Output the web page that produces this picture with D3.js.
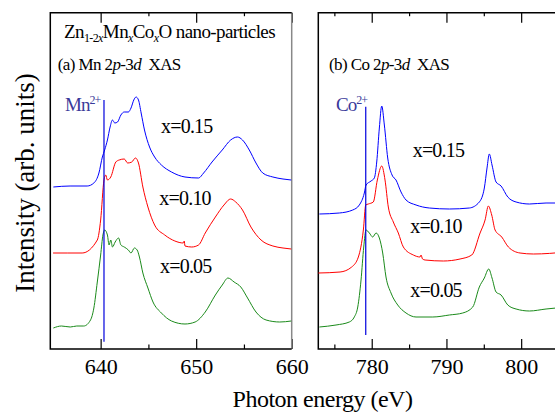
<!DOCTYPE html>
<html>
<head>
<meta charset="utf-8">
<script src="https://cdn.jsdelivr.net/npm/d3@7"></script>
</head>
<body style="margin:0; background:#fff">
<div id="chart"></div>
<script>
// Mn 2p-3d XAS spectra, [photon energy (eV), intensity (arb. units, offset)]
const mn015 = [
  [635.05,1.62],[636.8,1.63],[638.59,1.63],[639.29,1.66],[639.82,1.76],[640.18,1.92],[640.42,1.99],
  [640.71,2.09],[640.99,2.22],[641.24,2.29],[641.48,2.26],[641.77,2.27],[642.12,2.34],[642.47,2.37],
  [642.9,2.37],[643.18,2.41],[643.47,2.49],[643.71,2.52],[643.96,2.49],[644.24,2.36],[644.59,2.19],
  [645.12,2.02],[645.65,1.92],[646.36,1.84],[647.42,1.77],[648.83,1.72],[650.25,1.71],[650.78,1.76],
  [651.66,1.87],[652.73,1.99],[653.61,2.09],[654.32,2.12],[654.85,2.09],[655.56,1.99],[656.26,1.86],
  [656.97,1.76],[658.03,1.72],[659.09,1.7],[659.95,1.69]
];
const mn010 = [
  [635.02,0.96],[636.5,0.96],[638.06,0.96],[639.65,1.09],[640.0,1.29],[640.35,1.69],[640.53,1.74],
  [640.71,1.69],[641.06,1.72],[641.59,1.87],[641.94,1.89],[642.47,1.9],[642.83,1.86],[643.26,1.87],
  [643.64,1.91],[643.96,1.86],[644.42,1.62],[644.95,1.42],[645.65,1.24],[646.71,1.14],[647.77,1.08],
  [648.66,1.06],[648.75,1.08],[648.83,1.03],[649.54,1.02],[650.25,1.04],[650.95,1.16],[652.01,1.32],
  [652.91,1.44],[653.61,1.5],[654.14,1.47],[654.85,1.39],[655.73,1.22],[656.79,1.09],[658.03,1.03],
  [659.09,1.01],[659.95,1.0]
];
const mn005 = [
  [635.05,0.21],[635.9,0.23],[636.82,0.22],[637.5,0.23],[638.23,0.23],[638.94,0.29],[639.29,0.41],
  [639.65,0.67],[640.0,0.94],[640.24,1.14],[640.42,1.19],[640.71,1.14],[640.88,1.04],[641.06,1.09],
  [641.24,1.02],[641.52,1.07],[641.88,1.11],[642.12,1.04],[642.47,1.02],[642.9,0.99],[643.18,0.96],
  [643.53,1.01],[643.82,0.99],[644.06,0.92],[644.42,0.76],[644.95,0.61],[645.48,0.47],[646.36,0.36],
  [647.42,0.28],[648.83,0.25],[649.89,0.27],[650.95,0.37],[652.01,0.54],[652.73,0.64],[653.33,0.71],
  [653.97,0.67],[654.67,0.62],[655.38,0.51],[656.26,0.37],[657.32,0.29],[658.74,0.27],[659.95,0.28]
];

// Co 2p-3d XAS spectra
const co015 = [
  [772.99,1.35],[775.66,1.36],[777.46,1.39],[778.34,1.44],[779.01,1.56],[779.24,1.64],[779.91,1.68],
  [780.35,1.71],[780.67,1.87],[781.02,2.21],[781.34,2.43],[781.69,2.24],[782.14,1.91],[782.72,1.74],
  [783.25,1.69],[783.92,1.57],[784.59,1.49],[785.93,1.44],[787.71,1.41],[790.39,1.4],[793.07,1.41],
  [794.4,1.47],[795.07,1.61],[795.43,1.81],[795.74,1.95],[796.1,1.84],[796.64,1.67],[797.31,1.63],
  [798.21,1.52],[799.32,1.47],[801.1,1.45],[803.33,1.46],[806.0,1.46]
];
const co010 = [
  [772.85,0.76],[775.76,0.77],[777.32,0.82],[778.21,0.92],[778.88,1.19],[779.2,1.44],[779.54,1.45],
  [780.21,1.47],[780.75,1.69],[781.34,1.83],[781.78,1.69],[782.22,1.42],[782.89,1.27],[783.56,1.16],
  [784.23,1.02],[785.57,0.94],[786.47,0.92],[786.6,0.94],[786.8,0.9],[787.14,0.89],[789.58,0.88],
  [791.82,0.9],[793.39,0.94],[794.5,1.16],[795.17,1.29],[795.61,1.43],[796.06,1.34],[796.51,1.19],
  [797.4,1.12],[798.29,1.02],[799.85,0.96],[801.63,0.95],[806.0,0.97]
];
const co005 = [
  [772.99,0.22],[775.22,0.24],[777.0,0.27],[777.67,0.32],[778.13,0.42],[778.57,0.69],[778.93,1.02],
  [779.24,1.19],[779.68,1.16],[780.13,1.12],[780.58,1.16],[781.02,1.11],[781.47,0.96],[781.91,0.72],
  [782.58,0.56],[783.48,0.44],[784.59,0.36],[785.93,0.32],[788.17,0.32],[790.39,0.34],[792.18,0.36],
  [793.52,0.42],[794.4,0.62],[795.07,0.71],[795.66,0.8],[796.1,0.71],[796.64,0.57],[797.31,0.54],
  [798.21,0.44],[799.32,0.4],[801.1,0.38],[803.33,0.4],[806.0,0.42]
];

const seriesColors = ["#0000ff", "#ff0000", "#1a8a1a"];
const seriesLabels = ["x=0.15", "x=0.10", "x=0.05"];

const mnTicks = [640, 650, 660];
const mnMinor = [645, 655];
const coTicks = [780, 790, 800];
const coMinor = [775, 785, 795, 805];

const mnEdge = 640.35; // Mn2+ reference energy
const coEdge = 779.2;  // Co2+ reference energy

const FONT = '"Liberation Serif"';
const width = 555, height = 415;
const svg = d3.select("#chart").append("svg")
  .attr("width", width)
  .attr("height", height);

const plotTop = 12.7, plotBottom = 349;
const y = d3.scaleLinear().domain([0, 3.363]).range([plotBottom, plotTop]);

const panels = [
  {
    x: d3.scaleLinear().domain([634.73, 660]).range([50.3, 291.7]),
    data: [mn015, mn010, mn005],
    ticks: mnTicks, minor: mnMinor,
    edge: mnEdge, edgeRange: [0.073, 2.49],
    ion: "Mn", ionPos: [65, 111],
    labelPos: [[161, 132.7], [159.3, 205], [160, 273.3]],
    rightColor: "#888"
  },
  {
    x: d3.scaleLinear().domain([772.85, 806]).range([318.3, 566]),
    data: [co015, co010, co005],
    ticks: coTicks, minor: coMinor,
    edge: coEdge, edgeRange: [0.14, 2.423],
    ion: "Co", ionPos: [336, 111],
    labelPos: [[412.7, 156.7], [410.3, 233.3], [410.3, 296.7]],
    rightColor: "#000"
  }
];

panels.forEach((p) => {
  const g = svg.append("g");
  const [x0, x1] = p.x.range();

  // Major ticks with labels (bottom, pointing inward)
  const major = g.append("g")
    .attr("transform", `translate(0,${plotBottom})`)
    .call(d3.axisBottom(p.x).tickValues(p.ticks).tickSizeInner(-10).tickSizeOuter(0).tickPadding(9).tickFormat(d3.format("d")));
  major.select(".domain").remove();
  major.selectAll("line").attr("stroke", "#000").attr("stroke-width", 1.2);
  major.selectAll("text")
    .attr("font-size", "22px")
    .attr("fill", "#000");

  const minor = g.append("g")
    .attr("transform", `translate(0,${plotBottom})`)
    .call(d3.axisBottom(p.x).tickValues(p.minor).tickSizeInner(-4.5).tickSizeOuter(0).tickFormat(""));
  minor.select(".domain").remove();
  minor.selectAll("line").attr("stroke", "#000").attr("stroke-width", 1.2);

  // Top ticks
  const topMajor = g.append("g")
    .attr("transform", `translate(0,${plotTop})`)
    .call(d3.axisTop(p.x).tickValues(p.ticks).tickSizeInner(-10).tickSizeOuter(0).tickFormat(""));
  topMajor.select(".domain").remove();
  topMajor.selectAll("line").attr("stroke", "#000").attr("stroke-width", 1.2);

  const topMinor = g.append("g")
    .attr("transform", `translate(0,${plotTop})`)
    .call(d3.axisTop(p.x).tickValues(p.minor).tickSizeInner(-3.5).tickSizeOuter(0).tickFormat(""));
  topMinor.select(".domain").remove();
  topMinor.selectAll("line").attr("stroke", "#000").attr("stroke-width", 1.2);

  // Frame
  g.append("line").attr("x1", x1).attr("x2", x1).attr("y1", plotTop).attr("y2", plotBottom)
    .attr("stroke", p.rightColor).attr("stroke-width", 1.5);
  g.append("path")
    .attr("d", `M${x1},${plotTop}H${x0}V${plotBottom}H${x1}`)
    .attr("fill", "none")
    .attr("stroke", "#000")
    .attr("stroke-width", 1.5);

  // Spectra
  const line = d3.line()
    .x((d) => p.x(d[0]))
    .y((d) => y(d[1]))
    .curve(d3.curveMonotoneX);

  p.data.forEach((s, i) => {
    g.append("path")
      .datum(s)
      .attr("d", line)
      .attr("fill", "none")
      .attr("stroke", seriesColors[i])
      .attr("stroke-width", 1);

    g.append("text")
      .attr("x", p.labelPos[i][0])
      .attr("y", p.labelPos[i][1])
      .attr("font-size", "20px")
      .attr("letter-spacing", "-0.8px")
      .attr("fill", "#000")
      .text(seriesLabels[i]);
  });

  // Reference line for the 2+ ion
  g.append("line")
    .attr("x1", p.x(p.edge)).attr("x2", p.x(p.edge))
    .attr("y1", y(p.edgeRange[0])).attr("y2", y(p.edgeRange[1]))
    .attr("stroke", "#0000dd")
    .attr("stroke-width", 1.2);

  const ion = g.append("text")
    .attr("x", p.ionPos[0])
    .attr("y", p.ionPos[1])
    .attr("font-size", "19px")
    .attr("letter-spacing", "-1px")
    .attr("fill", "#3a3a9a");
  ion.append("tspan").text(p.ion);
  ion.append("tspan").attr("font-size", "12px").attr("dy", -7).text("2+");
});

// Panel titles
const t1 = svg.append("text").attr("x", 64).attr("y", 38).attr("font-size", "19px").attr("letter-spacing", "-0.6px");
t1.append("tspan").text("Zn");
t1.append("tspan").attr("font-size", "12px").attr("dy", 4).text("1-2");
t1.append("tspan").attr("font-size", "12px").attr("font-style", "italic").text("x");
t1.append("tspan").attr("dy", -4).text("Mn");
t1.append("tspan").attr("font-size", "12px").attr("font-style", "italic").attr("dy", 4).text("x");
t1.append("tspan").attr("dy", -4).text("Co");
t1.append("tspan").attr("font-size", "12px").attr("font-style", "italic").attr("dy", 4).text("x");
t1.append("tspan").attr("dy", -4).text("O nano-particles");

[["(a) Mn 2", 57.7], ["(b) Co 2", 329]].forEach(([lead, xPos]) => {
  const t = svg.append("text").attr("x", xPos).attr("y", 70).attr("font-size", "17px").attr("letter-spacing", "-0.6px");
  t.append("tspan").text(lead);
  t.append("tspan").attr("font-style", "italic").text("p");
  t.append("tspan").text("-3");
  t.append("tspan").attr("font-style", "italic").text("d");
  t.append("tspan").text("\u00a0 XAS");
});

// Axis titles
svg.append("text")
  .attr("x", 322.5)
  .attr("y", 407)
  .attr("text-anchor", "middle")
  .attr("font-size", "24px")
  .attr("letter-spacing", "-0.5px")
  .text("Photon energy (eV)");

svg.append("text")
  .attr("transform", "translate(34,183) rotate(-90)")
  .attr("text-anchor", "middle")
  .attr("font-size", "27px")
  .text("Intensity (arb. units)");

// Serif everywhere
svg.selectAll("text").style("font-family", FONT);
</script>
</body>
</html>
